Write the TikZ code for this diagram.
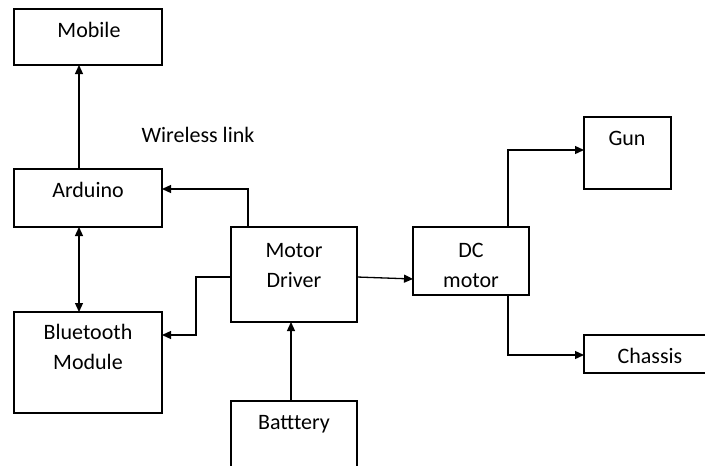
\documentclass[tikz,border=0pt]{standalone}
\usepackage{fontspec}
\setmainfont{Carlito}
\usetikzlibrary{arrows.meta}
\begin{document}
\begin{tikzpicture}[x=1pt,y=-1pt,
  box/.style={draw=black,line width=1.3pt,inner sep=0pt,outer sep=0pt},
  lbl/.style={anchor=base,inner sep=0pt,align=center,font=\fontsize{22}{30}\selectfont},
  conn/.style={draw=black,line width=1.3pt},
  arr/.style={conn,-{Triangle[length=9pt,width=8pt]}},
  darr/.style={conn,{Triangle[length=9pt,width=8pt]}-{Triangle[length=9pt,width=8pt]}}]
\useasboundingbox (0,0) rectangle (705,466);
\fill[white] (0,0) rectangle (705,466);
% boxes
\node (mobile) [box,minimum width=148pt,minimum height=56pt,anchor=north west] at (14,9) {};
\node (ard) [box,minimum width=148pt,minimum height=58pt,anchor=north west] at (14,169) {};
\node (bt) [box,minimum width=148pt,minimum height=101pt,anchor=north west] at (14,312) {};
\node (md) [box,minimum width=126pt,minimum height=95pt,anchor=north west] at (231,227) {};
\node (bat) [box,minimum width=126pt,minimum height=80pt,anchor=north west] at (231,401) {};
\node (dc) [box,minimum width=116pt,minimum height=68pt,anchor=north west] at (413,227) {};
\node (gun) [box,minimum width=87pt,minimum height=72pt,anchor=north west] at (584,117) {};
\node (ch) [box,minimum width=140pt,minimum height=38pt,anchor=north west] at (584,335) {};
% labels (two-line labels anchored at the last baseline)
\node (tmobile) [lbl] at (89,37) {Mobile};
\node (tard) [lbl] at (88,197) {Arduino};
\node (tbt) [lbl] at (88,369) {Bluetooth\\Module};
\node (tmd) [lbl] at (294,287) {Motor\\Driver};
\node (tbat) [lbl] at (294,429) {Batttery};
\node (tdc) [lbl] at (471,287) {DC\\motor};
\node (tgun) [lbl] at (627,145) {Gun};
\node (tch) [lbl] at (650,363) {Chassis};
\node (twl) [lbl] at (198,142) {Wireless link};
% helper coordinates
\coordinate (c0) at (79,100);
\coordinate (c1) at (248,189);
\coordinate (c2) at (196,277);
\coordinate (c3) at (196,335);
\coordinate (c4) at (508,150);
\coordinate (c5) at (508,355);
\coordinate (c6) at (291,360);
\coordinate (c7) at (413,279);
% connectors
\draw[arr] (ard.north -| c0) -- (mobile.south -| c0);
\draw[darr] (ard.south -| c0) -- (bt.north -| c0);
\draw[arr] (md.north -| c1) |- (ard.east |- c1);
\draw[arr] (md.west |- c2) -- (c2) -- (c3) -- (bt.east |- c3);
\draw[arr] (bat.north -| c6) -- (md.south -| c6);
\draw[arr] (md.east |- c2) -- (dc.west |- c7);
\draw[arr] (dc.north -| c4) |- (gun.west |- c4);
\draw[arr] (dc.south -| c5) |- (ch.west |- c5);
\end{tikzpicture}
\end{document}
